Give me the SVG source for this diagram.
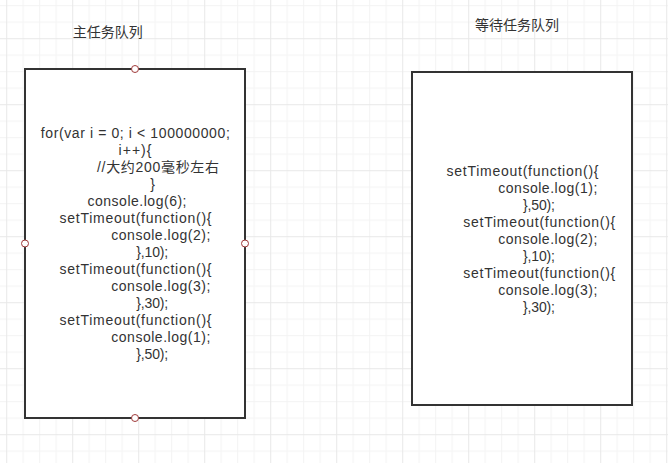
<svg xmlns="http://www.w3.org/2000/svg" width="668" height="463" viewBox="0 0 668 463">
<style>
.box{fill:#ffffff;stroke:#333333;stroke-width:2}
.code{font-family:"Liberation Sans","Noto Sans CJK SC",sans-serif;font-size:14px;fill:#333333;text-anchor:middle}
.title{font-family:"Noto Sans CJK SC","Liberation Sans",sans-serif;font-size:14px;fill:#333333;text-anchor:middle}
.pt{fill:#ffffff;stroke:#a03a3a;stroke-width:1}
</style>
<defs>
<pattern id="grid" patternUnits="userSpaceOnUse" x="6.2" y="-27.8" width="66" height="66">
<rect x="16.5" y="0" width="1" height="66" fill="#f3f3f3"/>
<rect x="33" y="0" width="1" height="66" fill="#f3f3f3"/>
<rect x="49.5" y="0" width="1" height="66" fill="#f3f3f3"/>
<rect x="0" y="16.5" width="66" height="1" fill="#f3f3f3"/>
<rect x="0" y="33" width="66" height="1" fill="#f3f3f3"/>
<rect x="0" y="49.5" width="66" height="1" fill="#f3f3f3"/>
<rect x="0" y="0" width="1" height="66" fill="#e8e8e8"/>
<rect x="0" y="0" width="66" height="1" fill="#e8e8e8"/>
</pattern>
</defs>
<rect x="0" y="0" width="668" height="463" fill="#ffffff"/>
<rect x="0" y="0" width="668" height="463" fill="url(#grid)"/>

<g id="title-main">
<text class="title" x="107.7" y="36.7">主任务队列</text>
</g>
<g id="title-wait">
<text class="title" x="517" y="30">等待任务队列</text>
</g>

<g id="main-queue">
<rect class="box" x="25" y="69" width="220" height="349"/>
<text class="code" x="135.3" y="138.3" textLength="189" lengthAdjust="spacing">for(var i = 0; i &lt; 100000000;</text>
<text class="code" x="135" y="155.3" textLength="33" lengthAdjust="spacing">i++){</text>
<text class="code" x="158" y="172.3" textLength="122" lengthAdjust="spacing">//大约200毫秒左右</text>
<text class="code" x="152.5" y="189.3">}</text>
<text class="code" x="137" y="206.3" textLength="99" lengthAdjust="spacing">console.log(6);</text>
<text class="code" x="135.5" y="223.3" textLength="152" lengthAdjust="spacing">setTimeout(function(){</text>
<text class="code" x="160.8" y="240.3" textLength="99" lengthAdjust="spacing">console.log(2);</text>
<text class="code" x="152.2" y="257.3" textLength="32" lengthAdjust="spacing">},10);</text>
<text class="code" x="135.5" y="274.3" textLength="152" lengthAdjust="spacing">setTimeout(function(){</text>
<text class="code" x="160.8" y="291.3" textLength="99" lengthAdjust="spacing">console.log(3);</text>
<text class="code" x="152.2" y="308.3" textLength="32" lengthAdjust="spacing">},30);</text>
<text class="code" x="135.5" y="325.3" textLength="152" lengthAdjust="spacing">setTimeout(function(){</text>
<text class="code" x="160.8" y="342.3" textLength="99" lengthAdjust="spacing">console.log(1);</text>
<text class="code" x="152.2" y="359.3" textLength="32" lengthAdjust="spacing">},50);</text>
<circle class="pt" cx="135" cy="69" r="3.5"/>
<circle class="pt" cx="25" cy="243.5" r="3.5"/>
<circle class="pt" cx="245" cy="243.5" r="3.5"/>
<circle class="pt" cx="135" cy="418" r="3.5"/>
</g>

<g id="wait-queue">
<rect class="box" x="412" y="72" width="220" height="333"/>
<text class="code" x="522.5" y="175.5" textLength="152" lengthAdjust="spacing">setTimeout(function(){</text>
<text class="code" x="547.8" y="192.5" textLength="99" lengthAdjust="spacing">console.log(1);</text>
<text class="code" x="539" y="209.5" textLength="32" lengthAdjust="spacing">},50);</text>
<text class="code" x="539.3" y="226.5" textLength="152" lengthAdjust="spacing">setTimeout(function(){</text>
<text class="code" x="547.8" y="243.5" textLength="99" lengthAdjust="spacing">console.log(2);</text>
<text class="code" x="539" y="260.5" textLength="32" lengthAdjust="spacing">},10);</text>
<text class="code" x="539.3" y="277.5" textLength="152" lengthAdjust="spacing">setTimeout(function(){</text>
<text class="code" x="547.8" y="294.5" textLength="99" lengthAdjust="spacing">console.log(3);</text>
<text class="code" x="539" y="311.5" textLength="32" lengthAdjust="spacing">},30);</text>
</g>

<g id="connectors"></g>
</svg>
